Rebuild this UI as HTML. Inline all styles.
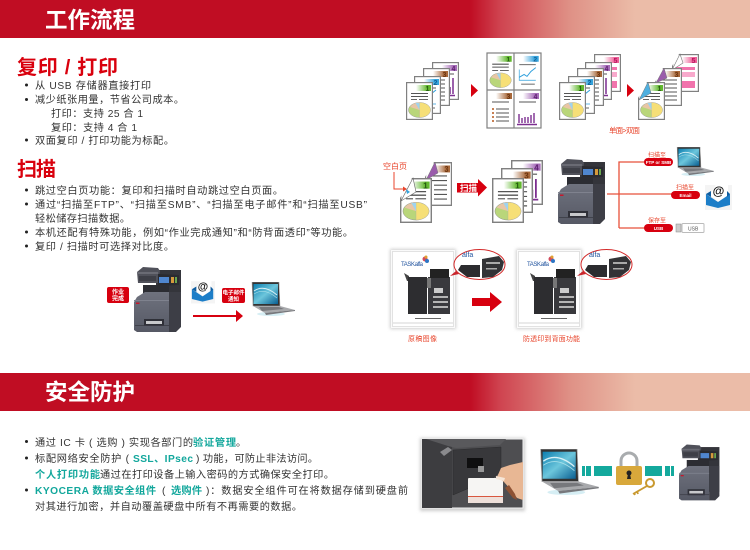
<!DOCTYPE html>
<html><head><meta charset="utf-8"><style>
html,body{margin:0;padding:0;background:#fff}
svg{display:block}
#root{filter:blur(.35px)}
text{font-family:"Liberation Sans","Noto Sans CJK SC",sans-serif}
.b{font-size:10.2px;fill:#333}
.t{font-size:10.2px;fill:#12a79c;font-weight:700}
.h{font-size:20px;fill:#d9000d;font-weight:700}
.w{font-size:22.5px;fill:#fff;font-weight:700}
.r{font-size:7.5px;fill:#e8452c}
.p{font-size:4.5px;fill:#fff;font-weight:700;text-anchor:middle}
</style></head><body>
<svg id="root" width="750" height="550" viewBox="0 0 750 550" xmlns="http://www.w3.org/2000/svg">
<defs>
<linearGradient id="hd" x1="0" x2="1" y1="0" y2="0"><stop offset="0" stop-color="#c00d23"/><stop offset=".627" stop-color="#c00d23"/><stop offset=".667" stop-color="#cf4450"/><stop offset=".76" stop-color="#df9186"/><stop offset=".847" stop-color="#ebbca8"/><stop offset="1" stop-color="#ebbca8"/></linearGradient>
<linearGradient id="g1"><stop offset="0" stop-color="#fff"/><stop offset=".75" stop-color="#62b82f"/></linearGradient>
<linearGradient id="g2"><stop offset="0" stop-color="#fff"/><stop offset=".75" stop-color="#35a3dc"/></linearGradient>
<linearGradient id="g3"><stop offset="0" stop-color="#fff"/><stop offset=".75" stop-color="#a8683a"/></linearGradient>
<linearGradient id="g4"><stop offset="0" stop-color="#fff"/><stop offset=".75" stop-color="#a66cb8"/></linearGradient>
<linearGradient id="g5"><stop offset="0" stop-color="#fff"/><stop offset=".75" stop-color="#ee5f96"/></linearGradient>
<linearGradient id="sc" x1="0" y1="0" x2="1" y2="1"><stop offset="0" stop-color="#0d7fb0"/><stop offset=".5" stop-color="#6cc6dc"/><stop offset="1" stop-color="#0a5f92"/></linearGradient>
<linearGradient id="pr" x1="0" x2="0" y1="0" y2="1"><stop offset="0" stop-color="#6f727e"/><stop offset="1" stop-color="#565965"/></linearGradient>
<filter id="sh" x="-10%" y="-10%" width="120%" height="120%"><feGaussianBlur stdDeviation="1.500"/></filter>

<g id="lines" stroke="#555" stroke-width="1.100"><path d="M5 11.500h17M5 14.500h17"/></g>
<g id="pie"><ellipse cx="13.500" cy="28" rx="11" ry="7.500" fill="#b9d67a" stroke="#888" stroke-width=".4"/><path d="M13.500 28V20.500a11 7.500 0 0 1 0 15z" fill="#f6df77" stroke="#aaa" stroke-width=".3"/><path d="M13.500 28L4 25a11 7.500 0 0 1 9.500-4.500z" fill="#e9c6a5"/><path d="M13.500 28L9.500 21h4z" fill="#9fd3ee"/></g>

<symbol id="p1" viewBox="0 0 27 38" preserveAspectRatio="none"><rect x=".6" y=".6" width="25.800" height="36.800" fill="#fff" stroke="#808080" stroke-width="1.200"/><rect x="10" y="3" width="15" height="6" fill="url(#g1)"/><text x="21.500" y="8.800" font-size="7" font-weight="700" fill="#245a0e" text-anchor="middle">1</text><use href="#lines"/><path d="M5 17.500h6M13 17.500h9" stroke="#666"/><use href="#pie"/></symbol>
<symbol id="p2" viewBox="0 0 27 38" preserveAspectRatio="none"><rect x=".6" y=".6" width="25.800" height="36.800" fill="#fff" stroke="#808080" stroke-width="1.200"/><rect x="10" y="3" width="15" height="6" fill="url(#g2)"/><text x="21.500" y="8.800" font-size="7" font-weight="700" fill="#0f5f96" text-anchor="middle">2</text><path d="M5 12h17" stroke="#555"/><path d="M5 24l5-3 3 2 4-5 5-4" fill="none" stroke="#2d9fdc"/><path d="M5 17v11h17" fill="none" stroke="#2d9fdc" stroke-width=".7"/><path d="M7 32h14" stroke="#666"/></symbol>
<symbol id="p3" viewBox="0 0 27 38" preserveAspectRatio="none"><rect x=".6" y=".6" width="25.800" height="36.800" fill="#fff" stroke="#808080" stroke-width="1.200"/><rect x="10" y="3" width="15" height="6" fill="url(#g3)"/><text x="21.500" y="8.800" font-size="7" font-weight="700" fill="#6c3510" text-anchor="middle">3</text><path d="M5 12h17M5 16h17M9 20h13M9 24h13M9 28h13M9 32h13" stroke="#555"/></symbol>
<symbol id="p4" viewBox="0 0 27 38" preserveAspectRatio="none"><rect x=".6" y=".6" width="25.800" height="36.800" fill="#fff" stroke="#808080" stroke-width="1.200"/><rect x="10" y="3" width="15" height="6" fill="url(#g4)"/><text x="21.500" y="8.800" font-size="7" font-weight="700" fill="#5d1f70" text-anchor="middle">4</text><path d="M5 12h17" stroke="#555"/><path d="M6 32v-6M10 32v-4M14 32v-5M18 32v-7M21 32v-16M4 33.500h19" stroke="#7c2d90" stroke-width="1.500"/></symbol>
<symbol id="p5" viewBox="0 0 27 38" preserveAspectRatio="none"><rect x=".6" y=".6" width="25.800" height="36.800" fill="#fff" stroke="#808080" stroke-width="1.200"/><rect x="10" y="3" width="15" height="6" fill="url(#g5)"/><text x="21.500" y="8.800" font-size="7" font-weight="700" fill="#b51460" text-anchor="middle">5</text><rect x="4" y="13" width="19" height="3" fill="#f173ac"/><rect x="4" y="18" width="19" height="5" fill="#f8a9cc"/><rect x="4" y="27" width="19" height="7" fill="#f173ac"/></symbol>

<symbol id="printer" viewBox="0 0 50 66">
<rect x="22" y="4" width="25" height="52" fill="#34353b"/>
<path d="M3 6L9 1l15 1 2 3-2 12H4z" fill="#50515a"/><path d="M3 6h21v2H3z" fill="#6a6b74"/><rect x="5" y="10" width="17" height="5" fill="#3e3f47"/>
<path d="M24 8l21 1v10l-21 1z" fill="#2a2b31"/><rect x="25" y="11" width="10" height="6" fill="#4f86cf"/><rect x="37" y="11" width="3" height="6" fill="#d59a3c"/><rect x="41" y="11" width="2" height="6" fill="#6aa84f"/>
<rect x="9" y="19" width="26" height="10" fill="#2c2d33"/>
<path d="M3 31l8-5h24v40H3l-3-2V36z" fill="url(#pr)"/>
<path d="M35 26h12v35l-5 5h-7z" fill="#3d3e46"/>
<rect x="0" y="34" width="35" height="1" fill="#7f828e"/>
<rect x="10" y="53" width="20" height="7" fill="#2f3038"/><rect x="12" y="55" width="16" height="3" fill="#c8c9cc"/>
<rect x="1" y="59" width="34" height=".8" fill="#3a3b44"/>
<rect x="2" y="36.500" width="3.500" height="1.500" fill="#c6172c"/></symbol>

<symbol id="laptop" viewBox="0 0 44 34"><ellipse cx="20" cy="32" rx="14" ry="2" fill="#d6eef4"/><path d="M1 0h27l1 24H2z" fill="#333" stroke="#aaa" stroke-width=".6"/><rect x="2.500" y="2" width="24.500" height="20" fill="url(#sc)"/><path d="M3 9q10-7 23 4" fill="none" stroke="#d9f1f6" stroke-width="1"/><path d="M3 12q10-7 23 4" fill="none" stroke="#a8dfe9" stroke-width=".6"/><path d="M2 24h27l15 4-30 3z" fill="#a8a9ac"/><path d="M8 25h20l5 2-22 2z" fill="#77787c"/><path d="M14 31l30-3v1L15 33z" fill="#77787c"/></symbol>

<symbol id="env" viewBox="0 0 27 28"><rect x="0" y="3" width="27" height="25" fill="#f4f4f4"/><path d="M5 13L12 1h11v12l-9 7z" fill="#fff"/><path d="M1 12l12 8 12-8v11L13 26 1 23z" fill="#1d7ec8"/><path d="M1 12l5-3v6zM25 12l-3-3v6z" fill="#0f5da0"/><text x="13.500" y="13" font-size="12" font-weight="700" fill="#111" text-anchor="middle">@</text></symbol>

<symbol id="poster" viewBox="0 0 66 80"><rect x="1" y="1" width="64" height="78" fill="#fafafa"/><rect x="2.500" y="2.500" width="61" height="75" fill="#fff" stroke="#d0d0d0" stroke-width=".6"/><circle cx="35" cy="10" r="2.500" fill="#d24a5c"/><circle cx="37" cy="12" r="2" fill="#2c75c4"/><circle cx="36" cy="8" r="1.500" fill="#e0a030"/><text x="11" y="17" font-size="6" fill="#23559f" textLength="22">TASKalfa</text>
<path d="M14 24l5 3v5h-2z" fill="#444"/><rect x="18" y="28" width="19" height="37" fill="#2d2d30"/><rect x="38" y="28" width="22" height="37" fill="#39393d"/><rect x="40" y="20" width="19" height="9" fill="#222"/><rect x="37" y="29" width="4" height="10" fill="#777"/><rect x="44" y="39" width="9" height="5" fill="#ccc"/><rect x="43" y="47" width="15" height="2" fill="#b5b5b5"/><rect x="43" y="52" width="15" height="2" fill="#b5b5b5"/><rect x="43" y="57" width="15" height="2" fill="#b5b5b5"/><rect x="25" y="69" width="26" height="1" fill="#666"/><path d="M3 74h60" stroke="#aaa" stroke-width=".6"/></symbol>
<symbol id="mag" viewBox="0 0 56 33"><path d="M0 27l6-5 3 3z" fill="#c9252c"/><ellipse cx="29.500" cy="15.500" rx="25.500" ry="15" fill="#fff" stroke="#d32a2a" stroke-width="1"/><path d="M8 21l3-5h19v12H17z" fill="#2c2c2f"/><path d="M32 10l17-3 5 6-2 8-9 7-11 1z" fill="#333336"/><rect x="36" y="13" width="14" height="2" fill="#aaa"/><rect x="36" y="19" width="11" height="1.500" fill="#aaa"/><text x="12" y="8" font-size="7" fill="#23559f">alfa</text></symbol>
</defs>

<rect width="750" height="550" fill="#fff"/>
<rect y="0" width="750" height="38" fill="url(#hd)"/>
<rect y="373" width="750" height="38" fill="url(#hd)"/>
<text class="w" x="45" y="28" textLength="90">工作流程</text>
<text class="w" x="45" y="400" textLength="90">安全防护</text>

<text class="h" x="17" y="74" textLength="101">复印 / 打印</text>
<text class="h" x="17" y="176" textLength="39">扫描</text>

<g fill="#222">
<circle cx="26.500" cy="85" r="1.500"/><circle cx="26.500" cy="99.500" r="1.500"/><circle cx="26.500" cy="140" r="1.500"/>
<circle cx="26.500" cy="190" r="1.500"/><circle cx="26.500" cy="204" r="1.500"/><circle cx="26.500" cy="232" r="1.500"/><circle cx="26.500" cy="246" r="1.500"/>
<circle cx="26.500" cy="441.500" r="1.500"/><circle cx="26.500" cy="458" r="1.500"/><circle cx="26.500" cy="490" r="1.500"/>
</g>
<text class="b" x="35" y="89" textLength="116">从 USB 存储器直接打印</text>
<text class="b" x="35" y="103" textLength="149">减少纸张用量，节省公司成本。</text>
<text class="b" x="51" y="117" textLength="92">打印：支持 25 合 1</text>
<text class="b" x="51" y="131" textLength="86">复印：支持 4 合 1</text>
<text class="b" x="35" y="144" textLength="139">双面复印 / 打印功能为标配。</text>
<text class="b" x="35" y="194" textLength="248">跳过空白页功能：复印和扫描时自动跳过空白页面。</text>
<text class="b" x="35" y="208" textLength="332">通过“扫描至FTP”、“扫描至SMB”、“扫描至电子邮件”和“扫描至USB”</text>
<text class="b" x="35" y="222" textLength="95">轻松储存扫描数据。</text>
<text class="b" x="35" y="236" textLength="318">本机还配有特殊功能，例如“作业完成通知”和“防背面透印”等功能。</text>
<text class="b" x="35" y="250" textLength="139">复印 / 扫描时可选择对比度。</text>

<text class="b" x="35" y="446" textLength="158">通过 IC 卡 ( 选购 ) 实现各部门的</text>
<text class="t" x="193" y="446" textLength="43">验证管理</text>
<text class="b" x="236" y="446">。</text>
<text class="b" x="35" y="462" textLength="94">标配网络安全防护 (</text>
<text class="t" x="133" y="462" textLength="60">SSL、IPsec</text>
<text class="b" x="196" y="462" textLength="122">) 功能，可防止非法访问。</text>
<text class="t" x="35" y="478" textLength="65">个人打印功能</text>
<text class="b" x="100" y="478" textLength="234">通过在打印设备上输入密码的方式确保安全打印。</text>
<text class="t" x="35" y="494" textLength="121">KYOCERA 数据安全组件</text>
<text class="b" x="162" y="494">(</text>
<text class="t" x="171" y="494" textLength="31">选购件</text>
<text class="b" x="206" y="494" textLength="202">)：数据安全组件可在将数据存储到硬盘前</text>
<text class="b" x="35" y="510" textLength="267">对其进行加密，并自动覆盖硬盘中所有不再需要的数据。</text>

<!-- stack A -->
<use href="#p4" x="432" y="62" width="27" height="38"/>
<use href="#p3" x="423" y="68" width="27" height="38"/>
<use href="#p2" x="414" y="76" width="27" height="38"/>
<use href="#p1" x="406" y="82" width="27" height="38"/>
<path d="M471 84l7 6.500-7 6.500z" fill="#d7000f"/>
<!-- 4-up -->
<rect x="487" y="53" width="54" height="75" fill="#fff" stroke="#808080" stroke-width="1.200"/>
<svg x="487" y="53" width="27" height="37" viewBox="0 0 27 38"><rect x="9" y="3" width="16" height="6" fill="url(#g1)"/><text x="21.500" y="8.800" font-size="7" font-weight="700" fill="#245a0e" text-anchor="middle">1</text><use href="#lines"/><path d="M5 18h6M13 18h9" stroke="#666"/><use href="#pie"/></svg>
<svg x="514" y="53" width="27" height="37" viewBox="0 0 27 38"><rect x="9" y="3" width="16" height="6" fill="url(#g2)"/><text x="21.500" y="8.800" font-size="7" font-weight="700" fill="#0f5f96" text-anchor="middle">2</text><path d="M5 12h17" stroke="#555"/><path d="M5 25l5-3 3 2 4-5 5-4" fill="none" stroke="#2d9fdc"/><path d="M5 17v11h17" fill="none" stroke="#2d9fdc" stroke-width=".7"/><path d="M7 32h14" stroke="#666"/></svg>
<svg x="487" y="90" width="27" height="38" viewBox="0 0 27 38"><rect x="9" y="3" width="16" height="6" fill="url(#g3)"/><text x="21.500" y="8.800" font-size="7" font-weight="700" fill="#6c3510" text-anchor="middle">3</text><path d="M5 12h17M9 19h13M9 23h13M9 27h13M9 31h13" stroke="#555"/><path d="M5 19h2M5 23h2M5 27h2M5 31h2" stroke="#b5561c" stroke-width="1.500"/></svg>
<svg x="514" y="90" width="27" height="38" viewBox="0 0 27 38"><rect x="9" y="3" width="16" height="6" fill="url(#g4)"/><text x="21.500" y="8.800" font-size="7" font-weight="700" fill="#5d1f70" text-anchor="middle">4</text><path d="M5 12h17" stroke="#555"/><path d="M5 33v-9M8 33v-5M11 33v-6M14 33v-6M17 33v-8M20 33v-10M3 34.500h20" stroke="#7c2d90" stroke-width="1.400"/></svg>
<path d="M514 53v75M487 90h54" stroke="#808080" stroke-width="1.200"/>
<!-- stack B -->
<use href="#p5" x="594" y="54" width="27" height="38"/>
<use href="#p4" x="585" y="62" width="27" height="38"/>
<use href="#p3" x="577" y="68" width="27" height="38"/>
<use href="#p2" x="568" y="76" width="27" height="38"/>
<use href="#p1" x="559" y="82" width="27" height="38"/>
<path d="M627 84l7 6.500-7 6.500z" fill="#d7000f"/>
<!-- duplex -->
<use href="#p5" x="672" y="54" width="27" height="38"/><path d="M672 54h7l-7 12z" fill="#fff"/><path d="M680 54l3 9-11 7z" fill="#fff" stroke="#777" stroke-width=".6"/>
<use href="#p3" x="655" y="68" width="27" height="38"/><path d="M655 68h8l-8 14z" fill="#fff"/><path d="M664 68l3 10-11 5z" fill="#9a5cab" stroke="#777" stroke-width=".5"/>
<use href="#p1" x="638" y="82" width="27" height="38"/><path d="M638 82h9l-9 16z" fill="#fff"/><path d="M648 82l3 11-12 7z" fill="#4fb0e0" stroke="#777" stroke-width=".5"/>
<text class="r" x="609" y="133" textLength="31">单面&gt;双面</text>

<!-- blank page -->
<text x="383" y="169" font-size="8" fill="#e8452c" textLength="24">空白页</text>
<use href="#p3" x="425" y="162" width="27" height="44"/><path d="M425 162h9l-9 15z" fill="#fff"/><path d="M435 162l3 11-12 7z" fill="#9a5cab" stroke="#777" stroke-width=".5"/>
<use href="#p1" x="400" y="178" width="32" height="45"/><path d="M400 178h12l-12 20z" fill="#fff"/><path d="M413 178l3 14-15 9z" fill="#fff" stroke="#666" stroke-width=".6"/><path d="M406 189l4 3-3 2" fill="#35a3dc"/>
<path d="M394 172v17h10" fill="none" stroke="#e8452c" stroke-width="1"/><path d="M403 186.500l4 2.500-4 2.500z" fill="#e8452c"/>
<path d="M457 183h21v-4l9 8.500-9 9v-4h-21z" fill="#d7000f"/>
<text x="460" y="191" font-size="8.500" font-weight="700" fill="#fff" textLength="17">扫描</text>
<use href="#p4" x="511" y="160" width="32" height="45"/>
<use href="#p3" x="501" y="168" width="32" height="45"/>
<use href="#p1" x="492" y="178" width="32" height="45"/>

<!-- printer + connections -->
<use href="#printer" x="558" y="158" width="50" height="66"/>
<path d="M607 194h65M619 228v-66h26M619 228h26" fill="none" stroke="#e8503a" stroke-width="1.300"/>
<rect x="644" y="158" width="29" height="8" rx="4" fill="#d7000f"/><text class="p" x="658.500" y="164">FTP or SMB</text>
<rect x="671" y="191" width="29" height="8" rx="4" fill="#d7000f"/><text class="p" x="685.500" y="197">Email</text>
<rect x="644" y="224" width="29" height="8" rx="4" fill="#d7000f"/><text class="p" x="658.500" y="230">USB</text>
<text x="648" y="157" font-size="6" fill="#e8452c" textLength="18">扫描至</text>
<text x="676" y="189.500" font-size="6" fill="#e8452c" textLength="18">扫描至</text>
<text x="648" y="222.500" font-size="6" fill="#e8452c" textLength="18">保存至</text>
<use href="#laptop" x="675" y="147" width="40" height="29"/>
<use href="#env" x="705" y="182" width="27" height="28"/>
<rect x="676" y="224" width="5" height="8" fill="#ccc" stroke="#888" stroke-width=".5"/>
<rect x="682" y="223.500" width="22" height="9" rx="1" fill="#fff" stroke="#bbb"/>
<text x="688" y="230.500" font-size="5" fill="#555">USB</text>

<!-- posters -->
<rect x="390" y="249" width="66" height="80" fill="#cfcfcf" filter="url(#sh)"/>
<rect x="516" y="249" width="66" height="80" fill="#cfcfcf" filter="url(#sh)"/>
<use href="#poster" x="390" y="249" width="66" height="80"/>
<use href="#poster" x="516" y="249" width="66" height="80"/>
<use href="#mag" x="450" y="249" width="56" height="33"/>
<use href="#mag" x="577" y="249" width="56" height="33"/>
<path d="M472 298h18v-6l12 10-12 10v-6h-18z" fill="#d7000f"/>
<text x="408" y="341" font-size="7" fill="#e8452c" textLength="29">原稿图像</text>
<text x="523" y="341" font-size="7" fill="#e8452c" textLength="57">防透印到背面功能</text>

<!-- bottom-left flow -->
<rect x="107" y="287" width="22" height="16" rx="2" fill="#d7000f"/>
<text x="118" y="294" font-size="6" fill="#fff" text-anchor="middle" font-weight="700">作业</text>
<text x="118" y="300.500" font-size="6" fill="#fff" text-anchor="middle" font-weight="700">完成</text>
<use href="#printer" x="134" y="266" width="50" height="66"/>
<use href="#env" x="191" y="278" width="24" height="26"/>
<rect x="222" y="288" width="23" height="15" rx="2" fill="#d7000f"/>
<text x="233.500" y="294.500" font-size="5.500" fill="#fff" text-anchor="middle" font-weight="700">电子邮件</text>
<text x="233.500" y="301" font-size="5.500" fill="#fff" text-anchor="middle" font-weight="700">通知</text>
<path d="M193 316h46" stroke="#d7000f" stroke-width="2"/><path d="M236 310l7 6-7 6z" fill="#d7000f"/>
<use href="#laptop" x="251" y="282" width="44" height="34"/>

<!-- security row -->
<rect x="420" y="438" width="105" height="73" fill="#ccc" filter="url(#sh)"/>
<rect x="422" y="439" width="101" height="69" fill="#4e4e51" stroke="#f2f2f2"/>
<rect x="422" y="439" width="30" height="69" fill="#3d3d40"/>
<path d="M426 439h80l-6 6-44 3-8-2z" fill="#59595c"/>
<path d="M440 452l8-5 4 3-8 6z" fill="#8a8a8d"/>
<path d="M453 450l48-3v24l-8 7-40 17z" fill="#38383b" stroke="#2b2b2d" stroke-width=".5"/>
<rect x="467" y="458" width="16" height="10" fill="#0f0f10"/>
<rect x="478" y="466" width="6" height="6" fill="#999"/>
<rect x="468" y="478" width="35" height="25" rx="1" fill="#f6f5f3"/><rect x="468" y="496" width="35" height="1" fill="#d9573f"/><rect x="468" y="497" width="35" height="6" fill="#eee0da"/>
<path d="M497 477l4-9 9-3 13-3v38l-6-2-6-8-7-8z" fill="#e8b794"/>
<path d="M496 476l9 2-1 3-8-2z" fill="#f6e6d8"/><path d="M505 488l8 10 4 2-2-6-6-9z" fill="#8e5234"/>
<use href="#laptop" x="538" y="449" width="62" height="46"/>
<g fill="#14a99d">
<rect x="582" y="466" width="3" height="10"/><rect x="586" y="466" width="5" height="10"/><rect x="594" y="466" width="18" height="10"/>
<rect x="645" y="466" width="17" height="10"/><rect x="665" y="466" width="5" height="10"/><rect x="671" y="466" width="3" height="10"/>
</g>
<path d="M621 467v-6a8 8 0 0 1 16 0v6" fill="none" stroke="#a9acae" stroke-width="3"/>
<rect x="616" y="466" width="26" height="19" rx="2" fill="#d8a83b"/>
<circle cx="629" cy="473" r="2.500" fill="#222"/><path d="M628 474h2l1 5h-4z" fill="#222"/>
<circle cx="650" cy="483" r="4" fill="none" stroke="#c9992f" stroke-width="2"/>
<path d="M647 486l-14 8M637 491l1 3M634 493l1 2" stroke="#c9992f" stroke-width="1.800" fill="none"/>
<use href="#printer" x="679" y="443" width="43" height="58"/>
</svg>
</body></html>
